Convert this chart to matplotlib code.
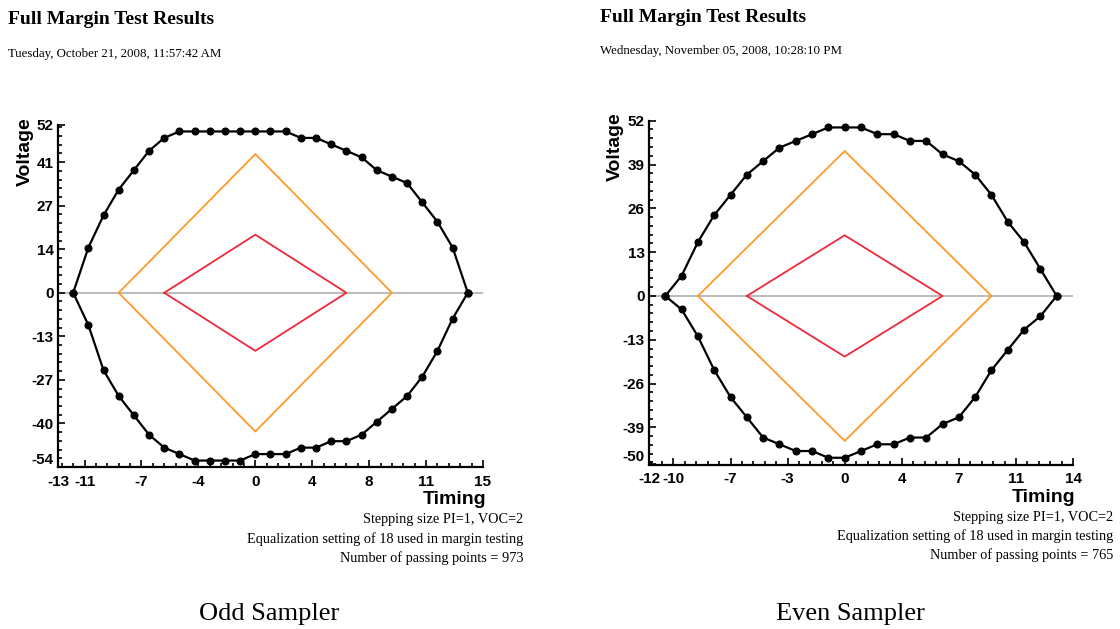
import matplotlib
matplotlib.use("Agg")
import matplotlib.pyplot as plt
from matplotlib.ticker import FixedLocator, MultipleLocator

# ---- data ----
odd_t = list(range(-12, 15))
odd_top = [0, 14, 24, 32, 38, 44, 48, 50, 50, 50, 50, 50, 50, 50, 50,
           48, 48, 46, 44, 42, 38, 36, 34, 28, 22, 14, 0]
odd_bot = [0, -10, -24, -32, -38, -44, -48, -50, -52, -52, -52, -52, -50, -50, -50,
           -48, -48, -46, -46, -44, -40, -36, -32, -26, -18, -8, 0]

even_t = list(range(-11, 14))
even_top = [0, 6, 16, 24, 30, 36, 40, 44, 46, 48, 50, 50, 50,
            48, 48, 46, 46, 42, 40, 36, 30, 22, 16, 8, 0]
even_bot = [0, -4, -12, -22, -30, -36, -42, -44, -46, -46, -48, -48, -46,
            -44, -44, -42, -42, -38, -36, -30, -22, -16, -10, -6, 0]

# eye masks (timing half width, voltage half height)
outer_mask = (9, 43)
inner_mask = (6, 18)

odd_xticks = [-13, -11.25, -7.5, -3.75, 0, 3.75, 7.5, 11.25, 15]
odd_xlabels = ["-13", "-11", "-7", "-4", "0", "4", "8", "11", "15"]
odd_yticks = [-54, -40.5, -27, -13.5, 0, 13.5, 27, 40.5, 52]
odd_ylabels = ["-54", "-40", "-27", "-13", "0", "14", "27", "41", "52"]

even_xticks = [-12, -10.5, -7, -3.5, 0, 3.5, 7, 10.5, 14]
even_xlabels = ["-12", "-10", "-7", "-3", "0", "4", "7", "11", "14"]
even_yticks = [-50, -39, -26, -13, 0, 13, 26, 39, 52]
even_ylabels = ["-50", "-39", "-26", "-13", "0", "13", "26", "39", "52"]

W, H = 1120, 629
fig = plt.figure(figsize=(11.2, 6.29), dpi=100)

serif = ["Liberation Serif", "DejaVu Serif"]
sans = ["Liberation Sans", "DejaVu Sans"]


def px(x, y):
    return x / W, 1 - y / H


def mask(ax, hw, hh, color):
    ax.plot([-hw, 0, hw, 0, -hw], [0, hh, 0, -hh, 0], color=color, lw=1.3, zorder=2)


def panel(rect, t, top, bot, xlim, ylim, xt, xl, yt, yl, xminor, yminor):
    ax = fig.add_axes(rect)
    ax.axhline(0, color="#a8a8a8", lw=1.1, zorder=1)
    mask(ax, outer_mask[0], outer_mask[1], "#ff9a2a")
    mask(ax, inner_mask[0], inner_mask[1], "#f0283c")
    for v in (top, bot):
        ax.plot(t, v, color="black", lw=1.6, marker="o", ms=4.8, zorder=3)
    ax.set_xlim(*xlim)
    ax.set_ylim(*ylim)
    ax.xaxis.set_major_locator(FixedLocator(xt))
    ax.set_xticklabels(xl)
    ax.yaxis.set_major_locator(FixedLocator(yt))
    ax.set_yticklabels(yl)
    ax.xaxis.set_minor_locator(MultipleLocator(xminor))
    ax.yaxis.set_minor_locator(MultipleLocator(yminor))
    for s in ("top", "right"):
        ax.spines[s].set_visible(False)
    for s in ("left", "bottom"):
        ax.spines[s].set_linewidth(1.6)
    ax.tick_params(which="both", direction="in", width=1.2)
    ax.tick_params(which="major", length=5)
    ax.tick_params(axis="x", which="major", pad=5.5)
    ax.tick_params(axis="y", which="major", pad=3)
    ax.tick_params(which="minor", length=3)
    for lab in ax.get_xticklabels() + ax.get_yticklabels():
        lab.set_fontfamily(sans)
        lab.set_fontweight("bold")
        lab.set_fontsize(11)
    # lowest y label sits a little higher so it clears the first x label
    ax.get_yticklabels()[0].set_va("bottom")
    return ax


panel([58 / W, 1 - 467 / H, 425 / W, 342 / H], odd_t, odd_top, odd_bot,
      (-13, 15), (-54, 52), odd_xticks, odd_xlabels, odd_yticks, odd_ylabels, 0.75, 2.7)
panel([649 / W, 1 - 464.5 / H, 424 / W, 343.8 / H], even_t, even_top, even_bot,
      (-12, 14), (-50, 52), even_xticks, even_xlabels, even_yticks, even_ylabels, 0.7, 2.6)

# headers
for x0, y0, date in [(8, 20, "Tuesday, October 21, 2008, 11:57:42 AM"),
                     (600, 17, "Wednesday, November 05, 2008, 10:28:10 PM")]:
    fig.text(*px(x0, y0), "Full Margin Test Results", family=serif, weight="bold",
             fontsize=14, ha="left", va="center")
    fig.text(*px(x0, y0 + 34), date, family=serif, fontsize=9.3, ha="left", va="center")

# axis titles
for (vx, vy), (tx, ty) in [((25, 152), (455, 500)), ((615, 147), (1044, 498))]:
    fig.text(*px(vx, vy), "Voltage", family=sans, weight="bold", fontsize=14,
             rotation=90, ha="center", va="center")
    fig.text(*px(tx, ty), "Timing", family=sans, weight="bold", fontsize=14,
             ha="center", va="center")

# notes
notes = ["Stepping size PI=1, VOC=2",
         "Equalization setting of 18 used in margin testing"]
for xr, y0, n in [(523, 520, 973), (1113, 517, 765)]:
    lines = notes + ["Number of passing points = %d" % n]
    for i, s in enumerate(lines):
        fig.text(*px(xr, y0 + 19 * i), s, family=serif, fontsize=10.3,
                 ha="right", va="center")

# captions
fig.text(*px(269, 614), "Odd Sampler", family=serif, fontsize=19, ha="center", va="center")
fig.text(*px(850, 614), "Even Sampler", family=serif, fontsize=19, ha="center", va="center")

fig.savefig("out.png", dpi=100, facecolor="white")
